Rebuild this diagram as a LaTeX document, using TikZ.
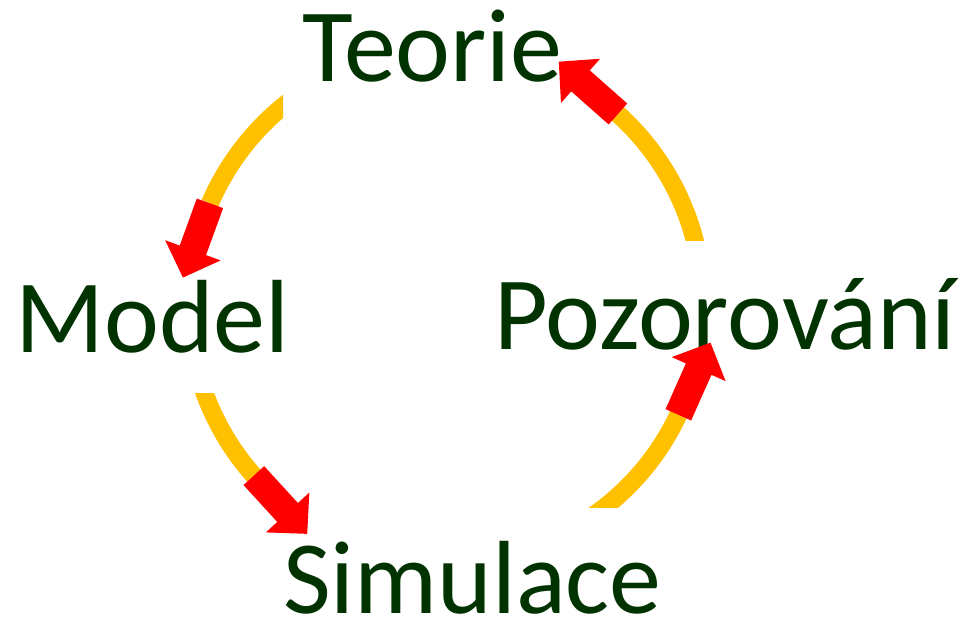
\documentclass[tikz,border=0pt]{standalone}
\usepackage{fontspec}
\setmainfont{Carlito}
\definecolor{dkgreen}{RGB}{0,51,0}
\definecolor{gold}{RGB}{255,192,0}
\definecolor{arrred}{RGB}{255,0,0}
\begin{document}
\begin{tikzpicture}[x=0.75pt,y=0.75pt,
  lbl/.style={text=dkgreen, font=\fontsize{78}{80}\selectfont, inner sep=0pt, text depth=0pt, anchor=base},
  ring/.style={draw=gold, line width=13.5pt},
  redarrow/.style={fill=arrred}]
\useasboundingbox (0,0) rectangle (961,623);
\coordinate (C) at (446,318);
% labels
\node[lbl] (teorie) at (432.5,541) {Teorie};
\node[lbl] (model) at (152.5,270) {Model};
\node[lbl] (pozor) at (725,273) {Pozorování};
\node[lbl] (simul) at (472.5,9) {Simulace};
% arc ends
\coordinate (e1) at ([shift={(156.7:257)}]C);
\coordinate (e2) at ([shift={(221.6:257)}]C);
\coordinate (e3) at ([shift={(-25.3:257)}]C);
\coordinate (e4) at ([shift={(48:257)}]C);
% arcs
\begin{scope}
\clip (0,0) rectangle (283,623);
\draw[ring, shift={(C)}] (125:257) arc[start angle=125, end angle=156.7, radius=257];
\end{scope}
\begin{scope}
\clip (0,0) rectangle (961,229);
\draw[ring, shift={(C)}] (196:257) arc[start angle=196, end angle=221.6, radius=257];
\end{scope}
\begin{scope}
\clip (0,115) rectangle (961,623);
\draw[ring, shift={(C)}] (-57:257) arc[start angle=-57, end angle=-25.3, radius=257];
\end{scope}
\begin{scope}
\clip (0,382) rectangle (961,623);
\draw[ring, shift={(C)}] (10:257) arc[start angle=10, end angle=48, radius=257];
\end{scope}
% red arrows
\fill[redarrow, shift={(e1)}, rotate=250] (0,-14) -- (50,-14) -- (50,-29.5) -- (79,0) -- (50,29.5) -- (50,14) -- (0,14) -- cycle;
\fill[redarrow, shift={(e2)}, rotate=-47.5] (0,-14) -- (50,-14) -- (50,-29.5) -- (79,0) -- (50,29.5) -- (50,14) -- (0,14) -- cycle;
\fill[redarrow, shift={(e3)}, rotate=66] (0,-14) -- (50,-14) -- (50,-29.5) -- (79,0) -- (50,29.5) -- (50,14) -- (0,14) -- cycle;
\fill[redarrow, shift={(e4)}, rotate=138.5] (0,-14) -- (50,-14) -- (50,-29.5) -- (79,0) -- (50,29.5) -- (50,14) -- (0,14) -- cycle;
\end{tikzpicture}
\end{document}
